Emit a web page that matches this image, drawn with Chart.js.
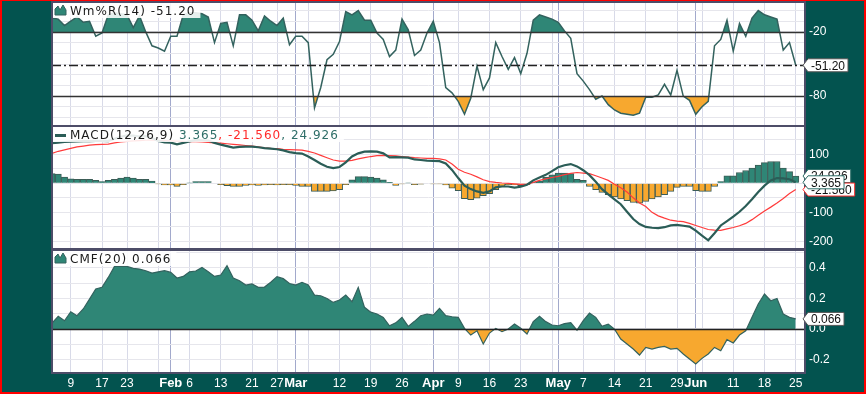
<!DOCTYPE html>
<html>
<head>
<meta charset="utf-8">
<script src="https://cdn.jsdelivr.net/npm/chart.js@4.4.0/dist/chart.umd.min.js"></script>
<style>
  html, body { margin: 0; padding: 0; background: #03534f; }
  #wrap { position: relative; width: 866px; height: 394px; overflow: hidden; background: #03534f; }
  #wrap canvas { position: absolute; left: 0; }
  #edge { position: absolute; left: 0; top: 0; width: 866px; height: 394px; box-sizing: border-box;
          border: 2px solid #ff0000; border-top-width: 1px; pointer-events: none; z-index: 5; }
</style>
</head>
<body>
<div id="wrap">
  <canvas id="wr" width="866" height="127" style="top:0"></canvas>
  <canvas id="macd" width="866" height="124" style="top:126px"></canvas>
  <canvas id="cmf" width="866" height="145" style="top:249px"></canvas>
  <div id="edge"></div>
</div>
<script>
// trading days, 2012
const dates = [
  '01-04','01-05','01-06','01-09','01-10','01-11','01-12','01-13','01-17','01-18','01-19','01-20','01-23','01-24','01-25','01-26','01-27','01-30','01-31',
  '02-01','02-02','02-03','02-06','02-07','02-08','02-09','02-10','02-13','02-14','02-15','02-16','02-17','02-21','02-22','02-23','02-24','02-27','02-28','02-29',
  '03-01','03-02','03-05','03-06','03-07','03-08','03-09','03-12','03-13','03-14','03-15','03-16','03-19','03-20','03-21','03-22','03-23','03-26','03-27','03-28','03-29','03-30',
  '04-02','04-03','04-04','04-05','04-09','04-10','04-11','04-12','04-13','04-16','04-17','04-18','04-19','04-20','04-23','04-24','04-25','04-26','04-27','04-30',
  '05-01','05-02','05-03','05-04','05-07','05-08','05-09','05-10','05-11','05-14','05-15','05-16','05-17','05-18','05-21','05-22','05-23','05-24','05-25','05-29','05-30','05-31',
  '06-01','06-04','06-05','06-06','06-07','06-08','06-11','06-12','06-13','06-14','06-15','06-18','06-19','06-20','06-21','06-22','06-25'
];
const tickDates = ['01-09','01-17','01-23','01-30','02-01','02-06','02-13','02-21','02-27','03-01','03-05','03-12','03-19','03-26',
  '04-02','04-09','04-16','04-23','04-30','05-01','05-07','05-14','05-21','05-29','06-01','06-04','06-11','06-18','06-25'];
const tickLabels = ['9','17','23','','Feb','6','13','21','27','Mar','','12','19','26',
  'Apr','9','16','23','','May','7','14','21','29','Jun','','11','18','25'];
const monthStarts = ['02-01','03-01','04-02','05-01','06-01'];

// Williams %R(14)
const wr = [-7,-8,-14,-10,-6,-11,-10,-24,-21,-4, -2,-3,-4,-16,-5,-20,-33,-35,-38,-24,
  -24,-4,-2,-2,-3,-6,-30,-12,-11,-33, -4,-4,-9,-19,-5,-10,-14,-7,-32,-24,
  -24,-30,-91,-72,-46,-41,-29,-1,-4,0, -9,-9,-21,-27,-43,-37,-8,-18,-42,-37,
  -21,-10,-30,-72,-77,-85,-97,-82,-52,-74, -63,-30,-43,-55,-44,-59,-40,-9,-4,-6,
  -8,-11,-19,-26,-59,-66,-74,-83,-80,-88, -93,-96,-97,-98,-96,-81,-81,-79,-69,-79,
  -56,-80,-84,-97,-90,-85,-33,-27,-9,-38, -12,-24,-7,0,-4,-6,-8,-37,-30,-51.2];

// MACD(12,26,9)
const macd = [138,140,142,143,144,145,145,146,146,145, 153,160,165,164,161,162,156,146,141,140,
  134,139,144,149,148,147,139,133,128,123, 125,126,126,124,121,119,117,113,107,104,
  102,92,80,67,57,52,56,72,92,103, 109,110,109,103,89,90,89,88,82,80,
  78,77,76,68,46,18,-8,-20,-28,-33, -28,-14,-11,-11,-15,-12,-5,10,20,29,
  42,55,62,66,58,45,28,5,-20,-38, -55,-72,-98,-123,-140,-150,-153,-154,-151,-145,
  -143,-146,-149,-163,-180,-196,-172,-145,-130,-115, -98,-78,-55,-30,-8,10,18,17,14,3.365];
const signal = [103,110,115,120,125,128,131,133,134,135, 139,142,144,146,147,148,148,148,147,146,
  145,144,143,143,142,141,139,138,136,134, 132,130,128,125,122,120,119,117,116,115,
  114,110,104,96,88,80,76,76,79,84, 88,92,95,96,95,94,92,90,88,87,
  86,86,84,80,66,48,38,31,22,12, 6,3,1,0,-2,-4,-4,3,10,15,
  20,24,30,34,37,35,33,26,18,10, -3,-15,-30,-50,-68,-80,-100,-112,-120,-127,
  -130,-132,-138,-145,-152,-159,-161,-162,-157,-152, -146,-138,-125,-110,-95,-82,-68,-52,-35,-21.56];
const hist = [33,32,21,15,14,14,14,10,6,10, 14,18,21,18,14,14,8,-2,-6,-6,
  -11,-5,1,6,6,6,0,-5,-8,-11, -11,-7,-6,-7,-6,-5,-6,-5,-5,-7,
  -11,-11,-28,-28,-28,-26,-22,-5,12,23, 23,21,18,12,3,-7,-2,1,-5,-3,
  0,-2,-2,-6,-17,-25,-53,-56,-51,-43, -36,-22,-11,-5,-6,-8,-5,3,8,21,
  29,35,35,33,14,10,-11,-22,-31,-39, -47,-54,-60,-66,-68,-62,-54,-47,-39,-28,
  -14,-11,-11,-25,-28,-28,-11,6,26,26, 37,44,52,63,71,75,75,52,40,24.926];

// CMF(20)
const cmf = [0.039,0.083,0.054,0.113,0.087,0.131,0.196,0.262,0.273,0.338, 0.41,0.41,0.41,0.397,0.393,0.382,0.367,0.375,0.382,0.371,
  0.334,0.345,0.375,0.38,0.404,0.375,0.345,0.354,0.415,0.334, 0.316,0.288,0.295,0.273,0.275,0.306,0.343,0.33,0.298,0.288,
  0.306,0.288,0.222,0.218,0.2,0.174,0.19,0.222,0.179,0.273, 0.142,0.11,0.098,0.076,0.021,0.04,0.076,0.017,0.05,0.087,
  0.098,0.091,0.135,0.087,0.08,0.076,0.004,-0.04,-0.012,-0.099, -0.027,0.004,-0.018,0,0.032,0.004,-0.033,0.048,0.083,0.048,
  0.026,0.021,0.035,0.041,-0.008,0.054,0.104,0.076,0.017,0.032, -0.001,-0.066,-0.099,-0.132,-0.171,-0.121,-0.132,-0.121,-0.114,-0.132,
  -0.127,-0.164,-0.197,-0.23,-0.193,-0.164,-0.121,-0.143,-0.07,-0.092, -0.04,-0.012,0.076,0.164,0.229,0.185,0.2,0.098,0.076,0.066];

// y axes: grid lines and labelled values
const wrGrid = [0,-10,-20,-30,-40,-50,-60,-70,-80,-90,-100];
const wrLabelVals = [-20,-80];
const macdGrid = [150,100,50,0,-50,-100,-150,-200];
const macdLabelVals = [100,-100,-200];
const cmfGrid = [0.5,0.4,0.3,0.2,0.1,0,-0.1,-0.2];
const cmfLabelVals = [0.4,0.2,0,-0.2];
const cmfLabelText = ['0.4','0.2','0.0','-0.2'];

const TEAL = '#2f8676', TEAL_LINE = '#33625e', ORANGE = '#f7a82f', RED = '#ff3b3b';
const tickIdx = tickDates.map(d => dates.indexOf(d));
const monthIdx = monthStarts.map(d => dates.indexOf(d));
const pts = arr => arr.map((v, i) => ({x: i, y: v}));
const last = arr => arr[arr.length - 1];

function noPad(s) {
  s.paddingTop = 0; s.paddingBottom = 0; s.paddingLeft = 0; s.paddingRight = 0;
}

function xScale(show) {
  return {
    type: 'linear', min: 0, max: 120.48, offset: false,
    afterBuildTicks: s => { s.ticks = tickIdx.map(v => ({value: v})); },
    afterFit: s => { s.height = show ? 18 : 0; noPad(s); },
    grid: {
      offset: false, drawTicks: false, lineWidth: 1,
      color: c => (c.tick && monthIdx.includes(c.tick.value)) ? '#a2a9cc' : '#d8dae8'
    },
    border: { display: false },
    ticks: {
      display: show, autoSkip: false, maxRotation: 0, minRotation: 0, padding: 3, color: '#ffffff',
      font: c => (c.tick && monthIdx.includes(c.tick.value))
        ? {family: 'Liberation Sans', size: 13, weight: 'bold'}
        : {family: 'Liberation Sans', size: 12},
      callback: v => { const k = tickIdx.indexOf(v); return k < 0 ? '' : tickLabels[k]; }
    }
  };
}

function yScale(min, max, grid, labelVals, labelText) {
  return {
    position: 'right', min: min, max: max,
    afterBuildTicks: s => { s.ticks = grid.map(v => ({value: v})); },
    afterFit: s => { s.width = 61; noPad(s); },
    grid: { color: '#e6e6ec', drawTicks: false },
    border: { display: false },
    ticks: {
      autoSkip: false, color: '#ffffff', padding: 4, font: {family: 'Liberation Sans', size: 12},
      callback: v => { const k = labelVals.indexOf(v); return k < 0 ? '' : (labelText ? labelText[k] : String(v)); }
    }
  };
}

function drawTag(ctx, x, y, text, stroke) {
  ctx.save();
  ctx.font = '12px "Liberation Sans"';
  const w = ctx.measureText(text).width + 6, h = 13;
  ctx.beginPath();
  ctx.moveTo(x - 2, y);
  ctx.lineTo(x + 3, y - h / 2);
  ctx.lineTo(x + 3 + w, y - h / 2);
  ctx.lineTo(x + 3 + w, y + h / 2);
  ctx.lineTo(x + 3, y + h / 2);
  ctx.closePath();
  ctx.fillStyle = '#ffffff'; ctx.fill();
  ctx.strokeStyle = stroke; ctx.lineWidth = 1; ctx.stroke();
  ctx.fillStyle = '#111'; ctx.textBaseline = 'middle';
  ctx.fillText(text, x + 6, y + 1);
  ctx.restore();
}

function drawLegend(ctx, a, icon, parts) {
  ctx.save();
  ctx.font = '12px "DejaVu Sans"';
  ctx.letterSpacing = '1px';
  let w = 0;
  parts.forEach(p => { w += ctx.measureText(p.text).width; });
  ctx.fillStyle = 'rgba(255,255,255,0.88)';
  ctx.fillRect(a.left + 1, a.top + 1, w + 22, 15);
  const bx = a.left + 3, by = a.top + 13;
  if (icon === 'area') {
    ctx.beginPath();
    ctx.moveTo(bx, by); ctx.lineTo(bx, by - 6); ctx.lineTo(bx + 3, by - 9); ctx.lineTo(bx + 5, by - 5);
    ctx.lineTo(bx + 8, by - 10); ctx.lineTo(bx + 11, by - 5); ctx.lineTo(bx + 11, by);
    ctx.closePath();
    ctx.fillStyle = TEAL; ctx.fill();
    ctx.strokeStyle = TEAL_LINE; ctx.lineWidth = 1; ctx.stroke();
  } else {
    ctx.fillStyle = '#2b5d57';
    ctx.fillRect(bx, by - 5, 11, 3);
  }
  let x = a.left + 18;
  parts.forEach(p => {
    ctx.fillStyle = p.color;
    ctx.fillText(p.text, x, by);
    x += ctx.measureText(p.text).width;
  });
  ctx.restore();
}

function panelPlugin(cfg) {
  return {
    id: 'panel',
    beforeDraw(chart) {
      const {ctx, chartArea: a} = chart;
      ctx.save();
      ctx.fillStyle = '#ffffff';
      ctx.fillRect(a.left, a.top, a.width, a.height);
      ctx.restore();
    },
    afterDatasetsDraw(chart) {
      const {ctx, chartArea: a, scales} = chart;
      (cfg.lines || []).forEach(l => {
        const py = Math.round(scales.y.getPixelForValue(l.value)) + 0.5;
        ctx.save();
        ctx.strokeStyle = l.color; ctx.lineWidth = l.width;
        ctx.setLineDash(l.dash || []);
        ctx.beginPath(); ctx.moveTo(a.left, py); ctx.lineTo(a.right, py); ctx.stroke();
        ctx.restore();
      });
    },
    afterDraw(chart) {
      const {ctx, chartArea: a, scales} = chart;
      ctx.save();
      ctx.strokeStyle = '#4d4d68'; ctx.lineWidth = 2;
      ctx.strokeRect(a.left, a.top, a.width, a.height);
      ctx.restore();
      drawLegend(ctx, a, cfg.icon, cfg.legend);
      (cfg.tags || []).forEach(t => drawTag(ctx, a.right, scales.y.getPixelForValue(t.value), t.text, t.stroke));
    }
  };
}

const common = {
  responsive: false, animation: false, events: [],
  plugins: { legend: { display: false }, tooltip: { enabled: false } },
  elements: { point: { radius: 0 }, line: { tension: 0 } }
};

// Williams %R panel
new Chart(document.getElementById('wr'), {
  type: 'line',
  data: {
    datasets: [
      { data: pts(wr), borderColor: TEAL_LINE, borderWidth: 1.5,
        fill: { target: { value: -20 }, above: TEAL, below: 'rgba(0,0,0,0)' } },
      { data: pts(wr), borderWidth: 0, borderColor: 'rgba(0,0,0,0)',
        fill: { target: { value: -80 }, above: 'rgba(0,0,0,0)', below: ORANGE } }
    ]
  },
  options: Object.assign({}, common, {
    layout: { padding: { left: 52, right: 0, top: 2, bottom: 1 } },
    scales: { x: xScale(false), y: yScale(-108, 8, wrGrid, wrLabelVals) }
  }),
  plugins: [panelPlugin({
    icon: 'area',
    legend: [{ text: 'Wm%R(14) ' + last(wr).toFixed(2), color: '#1a1a1a' }],
    lines: [
      { value: -20, color: '#333', width: 1.5 },
      { value: -80, color: '#333', width: 1.5 },
      { value: last(wr), color: '#222', width: 1.5, dash: [9, 3, 2, 3] }
    ],
    tags: [{ value: last(wr), text: last(wr).toFixed(2), stroke: '#555' }]
  })]
});

// MACD panel
new Chart(document.getElementById('macd'), {
  type: 'line',
  data: {
    datasets: [
      { data: pts(macd), borderColor: '#2b5d57', borderWidth: 2.2 },
      { data: pts(signal), borderColor: RED, borderWidth: 1.2 },
      { type: 'bar', data: pts(hist), barPercentage: 1, categoryPercentage: 1, grouped: false,
        backgroundColor: c => c.parsed.y >= 0 ? TEAL : ORANGE,
        borderColor: '#3b5c56', borderWidth: 1 }
    ]
  },
  options: Object.assign({}, common, {
    layout: { padding: { left: 52, right: 0, top: 0, bottom: 1 } },
    scales: { x: xScale(false), y: yScale(-226, 197, macdGrid, macdLabelVals) }
  }),
  plugins: [panelPlugin({
    icon: 'line',
    legend: [
      { text: 'MACD(12,26,9) ', color: '#1a1a1a' },
      { text: last(macd).toFixed(3), color: '#2e6e68' },
      { text: ', ' + last(signal).toFixed(3), color: '#ff2a2a' },
      { text: ', ' + last(hist).toFixed(3), color: '#2e6e68' }
    ],
    tags: [
      { value: last(hist), text: last(hist).toFixed(3), stroke: '#2e6e68' },
      { value: last(signal), text: last(signal).toFixed(3), stroke: '#ff2a2a' },
      { value: last(macd), text: last(macd).toFixed(3), stroke: '#2e6e68' }
    ]
  })]
});

// CMF panel
new Chart(document.getElementById('cmf'), {
  type: 'line',
  data: {
    datasets: [
      { data: pts(cmf), borderColor: TEAL_LINE, borderWidth: 1.2,
        fill: { target: 'origin', above: TEAL, below: ORANGE } }
    ]
  },
  options: Object.assign({}, common, {
    layout: { padding: { left: 52, right: 0, top: 1, bottom: 3 } },
    scales: { x: xScale(true), y: yScale(-0.289, 0.518, cmfGrid, cmfLabelVals, cmfLabelText) }
  }),
  plugins: [panelPlugin({
    icon: 'area',
    legend: [{ text: 'CMF(20) ' + last(cmf).toFixed(3), color: '#1a1a1a' }],
    lines: [{ value: 0, color: '#222', width: 1.5 }],
    tags: [{ value: last(cmf), text: last(cmf).toFixed(3), stroke: '#555' }]
  })]
});
</script>
</body>
</html>
